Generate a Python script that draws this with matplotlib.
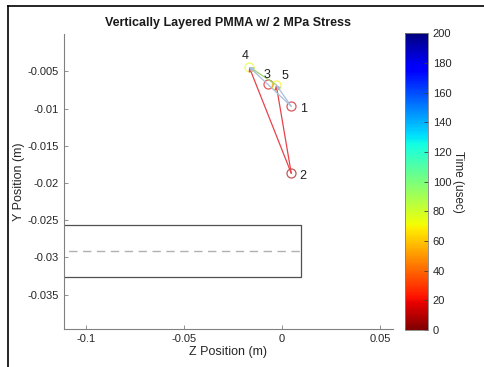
import matplotlib
matplotlib.use("Agg")
import matplotlib.pyplot as plt
from matplotlib.lines import Line2D
import numpy as np

plt.rcParams['font.family'] = ['Liberation Sans', 'DejaVu Sans']

# sensor / event positions (m) and times (usec)
z_pos = [0.0048, 0.0048, -0.0072, -0.0167, -0.0029]
y_pos = [-0.0097, -0.0187, -0.0067, -0.0044, -0.0068]
t_usec = [12, 5, 15, 75, 70]
point_labels = ["1", "2", "3", "4", "5"]

# arrows: (from index, to index, colour)
arrow_from = [1, 1, 4, 0, 0]
arrow_to = [3, 4, 3, 4, 3]
arrow_colors = ["#e8434a", "#e8434a", "#9bd36a", "#a9bfdc", "#a9bfdc"]

# specimen outline
rect_z = [-0.13, 0.01, 0.01, -0.13]
rect_y = [-0.0256, -0.0256, -0.0326, -0.0326]
mid_y = -0.0291

fig = plt.figure(figsize=(4.84, 3.67), dpi=100)
ax = fig.add_axes([0.132, 0.104, 0.680, 0.803])
cax = fig.add_axes([0.837, 0.101, 0.047, 0.808])

cmap = plt.get_cmap("jet_r")
norm = matplotlib.colors.Normalize(0, 200)

ax.plot(rect_z, rect_y, color="#505050", lw=0.9, clip_on=True)
ax.plot([-0.13, 0.01], [mid_y, mid_y], color="#b0b0b0", lw=1.0, ls=(0, (6, 4)))

for a, b, c in zip(arrow_from, arrow_to, arrow_colors):
    ax.annotate("", xy=(z_pos[b], y_pos[b]), xytext=(z_pos[a], y_pos[a]),
                arrowprops=dict(arrowstyle="-|>", color=c, lw=0.9,
                                mutation_scale=6, shrinkA=0, shrinkB=0))

for zz, yy, tt, lab in zip(z_pos, y_pos, t_usec, point_labels):
    ax.plot(zz, yy, "o", mfc="none", mec=cmap(norm(tt)), ms=6.5, mew=0.9, alpha=0.65)

offsets = {"1": (6, -4), "2": (6, -4), "3": (-3, 4), "4": (-5, 6), "5": (4, 4)}
for zz, yy, lab in zip(z_pos, y_pos, point_labels):
    ax.annotate(lab, (zz, yy), xytext=offsets[lab], textcoords="offset points",
                fontsize=9, color="#202020")

ax.set_xlim(-0.1112, 0.0567)
ax.set_ylim(-0.0396, 0.0)
ax.set_xticks([-0.1, -0.05, 0, 0.05])
ax.set_xticklabels(["-0.1", "-0.05", "0", "0.05"])
ax.set_yticks([-0.035, -0.03, -0.025, -0.02, -0.015, -0.01, -0.005])
ax.set_yticklabels(["-0.035", "-0.03", "-0.025", "-0.02", "-0.015", "-0.01", "-0.005"])
ax.spines["top"].set_visible(False)
ax.spines["right"].set_visible(False)
for s in ["left", "bottom"]:
    ax.spines[s].set_color("#808080")
    ax.spines[s].set_linewidth(0.8)
ax.tick_params(direction="in", length=3, width=0.6, color="#808080",
               labelsize=8, labelcolor="#262626")
ax.set_xlabel("Z Position (m)", fontsize=9, color="#262626", labelpad=2)
ax.set_ylabel("Y Position (m)", fontsize=9, color="#262626", labelpad=2)
ax.set_title("Vertically Layered PMMA w/ 2 MPa Stress", fontsize=9,
             fontweight="bold", color="#1a1a1a", pad=6)

sm = matplotlib.cm.ScalarMappable(norm=norm, cmap=cmap)
cb = fig.colorbar(sm, cax=cax)
cb.set_ticks(np.arange(0, 201, 20))
cb.outline.set_edgecolor("#808080")
cb.outline.set_linewidth(0.6)
cax.tick_params(direction="in", length=3, width=0.6, color="#404040",
                labelsize=8, labelcolor="#262626")
cb.set_label("Time (usec)", rotation=270, fontsize=8.5, color="#262626", labelpad=9)

# screenshot frame
fig.add_artist(Line2D([8 / 484, 8 / 484], [0, 1 - 6 / 367], color="black", lw=1.2))
fig.add_artist(Line2D([8 / 484, 1], [1 - 6 / 367, 1 - 6 / 367], color="black", lw=1.2))

fig.savefig("out.png", dpi=100)
